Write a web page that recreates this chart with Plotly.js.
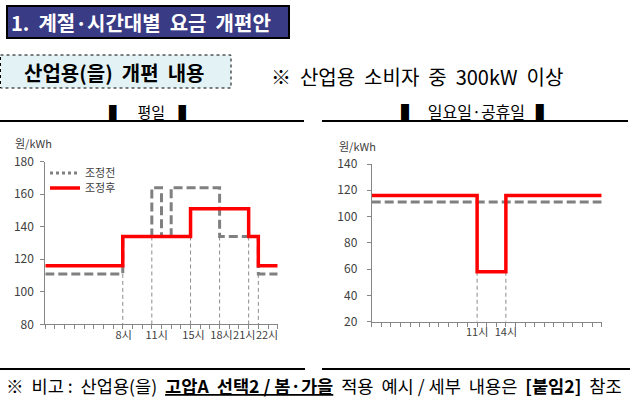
<!DOCTYPE html>
<html><head><meta charset="utf-8">
<script src="https://cdn.plot.ly/plotly-3.0.1.min.js"></script>
<style>html,body{margin:0;padding:0;background:#fff;overflow:hidden}#chart{width:634px;height:399px}</style>
</head><body><div id="chart"></div>
<script>
// ---------- data ----------
const seriesNames = ['조정전', '조정후'];
// weekday (평일): segment boundaries (hours) and rate per segment (원/kWh)
const weekdayBeforeHours = [0, 8, 11, 12, 13, 18, 22, 24];
const weekdayBeforeRate  = [111, 134, 164, 134, 164, 134, 111];
const weekdayAfterHours  = [0, 8, 15, 21, 22, 24];
const weekdayAfterRate   = [116, 134, 151, 134, 116];
// Sunday / holiday (일요일·공휴일)
const holidayBeforeHours = [0, 24];
const holidayBeforeRate  = [111];
const holidayAfterHours  = [0, 11, 14, 24];
const holidayAfterRate   = [116, 58, 116];
// labelled hours
const weekdayTickHours = [8, 11, 15, 18, 21, 22];
const weekdayTickText  = ['8시', '11시', '15시', '18시', '21시', '22시'];
const holidayTickHours = [11, 14];
const holidayTickText  = ['11시', '14시'];
const yUnit = '원/kWh';

// ---------- helpers ----------
const W = 634, H = 399;
const X = p => p / W, Y = p => 1 - p / H;
const FONT = '"Noto Sans CJK KR", "Noto Sans", sans-serif';
const stepY = r => r.concat([r[r.length - 1]]);
function rateAt(h, r, t) {
  for (let i = 0; i < r.length; i++) if (t >= h[i] && t < h[i + 1]) return r[i];
  return r[r.length - 1];
}
function drops(hours, a, b, floor) {
  const xs = [], ys = [];
  hours.forEach(t => {
    const top = Math.min(rateAt(a[0], a[1], t - 0.01), rateAt(a[0], a[1], t + 0.01),
                         rateAt(b[0], b[1], t - 0.01), rateAt(b[0], b[1], t + 0.01));
    xs.push(t, t, null); ys.push(top, floor, null);
  });
  return {xs, ys};
}
const wkDrop = drops(weekdayTickHours, [weekdayBeforeHours, weekdayBeforeRate], [weekdayAfterHours, weekdayAfterRate], 80);
const hoDrop = drops(holidayTickHours, [holidayBeforeHours, holidayBeforeRate], [holidayAfterHours, holidayAfterRate], 20);

const grayDash = {color: '#808080', width: 3, dash: '9px,4px', shape: 'hv'};
const redLine  = {color: '#FF0000', width: 3.5, shape: 'hv'};
const dropLine = {color: '#8c8c8c', width: 1, dash: '4px,3px'};

const traces = [
  {x: wkDrop.xs, y: wkDrop.ys, xaxis: 'x', yaxis: 'y', mode: 'lines', line: dropLine, showlegend: false, hoverinfo: 'skip'},
  {x: hoDrop.xs, y: hoDrop.ys, xaxis: 'x2', yaxis: 'y2', mode: 'lines', line: dropLine, showlegend: false, hoverinfo: 'skip'},
  // legend entry for 조정전 (dotted sample in legend)
  {x: [null], y: [null], xaxis: 'x', yaxis: 'y', mode: 'lines', name: seriesNames[0],
   line: {color: '#808080', width: 3, dash: 'dot'}, showlegend: true, legend: 'legend'},
  {x: weekdayBeforeHours, y: stepY(weekdayBeforeRate), xaxis: 'x', yaxis: 'y', mode: 'lines',
   name: seriesNames[0], line: grayDash, showlegend: false},
  {x: weekdayAfterHours, y: stepY(weekdayAfterRate), xaxis: 'x', yaxis: 'y', mode: 'lines',
   name: seriesNames[1], line: redLine, showlegend: true, legend: 'legend2'},
  {x: holidayBeforeHours, y: stepY(holidayBeforeRate), xaxis: 'x2', yaxis: 'y2', mode: 'lines',
   name: seriesNames[0], line: grayDash, showlegend: false},
  {x: holidayAfterHours, y: stepY(holidayAfterRate), xaxis: 'x2', yaxis: 'y2', mode: 'lines',
   name: seriesNames[1], line: redLine, showlegend: false}
];

const axisCommon = {showgrid: false, zeroline: false, showline: true, linecolor: '#868686', linewidth: 1,
  tickfont: {family: FONT, size: 12, color: '#404040'}, fixedrange: true};
const wkLabelShift = [0.1, 0.5, 0.3, 0.2, -0.45, 0.9];
const xCommon = Object.assign({}, axisCommon, {range: [0, 24], ticks: '', tickangle: 0,
  tickfont: {family: FONT, size: 11, color: '#404040'},
  minor: {tick0: 0, dtick: 1, ticks: 'outside', ticklen: 4, tickcolor: '#868686', showgrid: false}});
const legendStyle = {xanchor: 'left', yanchor: 'middle', bgcolor: 'rgba(0,0,0,0)',
  font: {family: FONT, size: 11, color: '#404040'}};

const layout = {
  width: W, height: H, margin: {l: 0, r: 0, t: 0, b: 0},
  paper_bgcolor: '#fff', plot_bgcolor: 'rgba(0,0,0,0)',
  font: {family: FONT},
  showlegend: true,
  legend: Object.assign({x: X(45), y: Y(173)}, legendStyle),
  legend2: Object.assign({x: X(45), y: Y(188)}, legendStyle),
  xaxis: Object.assign({}, xCommon, {domain: [X(45.3), X(277.7)], anchor: 'y',
    tickmode: 'array', tickvals: weekdayTickHours.map((h, i) => h + wkLabelShift[i]), ticktext: weekdayTickText}),
  yaxis: Object.assign({}, axisCommon, {domain: [Y(324.3), Y(161.7)], anchor: 'x', range: [80, 180], dtick: 20,
    ticks: 'outside', ticklen: 4, tickcolor: '#868686', ticklabelstandoff: 4}),
  xaxis2: Object.assign({}, xCommon, {domain: [X(371.7), X(601.7)], anchor: 'y2',
    tickmode: 'array', tickvals: holidayTickHours, ticktext: holidayTickText}),
  yaxis2: Object.assign({}, axisCommon, {domain: [Y(321.7), Y(164)], anchor: 'x2', range: [20, 140], dtick: 20,
    ticks: 'outside', ticklen: 4, tickcolor: '#868686', ticklabelstandoff: 7}),
  shapes: [
    {type: 'rect', xref: 'paper', yref: 'paper', x0: X(7), x1: X(289), y0: Y(6), y1: Y(38),
     fillcolor: '#3A3B85', line: {color: '#000', width: 2}, layer: 'below'},
    {type: 'rect', xref: 'paper', yref: 'paper', x0: X(0.5), x1: X(231), y0: Y(55), y1: Y(88),
     fillcolor: '#E3F3F5', line: {color: '#000', width: 1, dash: 'dot'}, layer: 'below'},
    {type: 'line', xref: 'paper', yref: 'paper', x0: X(0), x1: X(304), y0: Y(121), y1: Y(121), line: {color: '#000', width: 2}},
    {type: 'line', xref: 'paper', yref: 'paper', x0: X(322), x1: X(628), y0: Y(121), y1: Y(121), line: {color: '#000', width: 2}},
    {type: 'line', xref: 'paper', yref: 'paper', x0: X(0), x1: X(305), y0: Y(369), y1: Y(369), line: {color: '#000', width: 2}},
    {type: 'line', xref: 'paper', yref: 'paper', x0: X(322), x1: X(630), y0: Y(369), y1: Y(369), line: {color: '#000', width: 2}}
  ],
  annotations: [
    {text: '1.  계절·시간대별  요금  개편안', xref: 'paper', yref: 'paper', x: X(9), y: Y(22), xanchor: 'left', yanchor: 'middle',
     showarrow: false, font: {family: FONT, size: 20, color: '#fff', weight: 700}},
    {text: '산업용(을)  개편  내용', xref: 'paper', yref: 'paper', x: X(114), y: Y(72), xanchor: 'center', yanchor: 'middle',
     showarrow: false, font: {family: FONT, size: 20, color: '#000', weight: 700}},
    {text: '※  산업용  소비자  중  300kW  이상', xref: 'paper', yref: 'paper', x: X(269), y: Y(76), xanchor: 'left', yanchor: 'middle',
     showarrow: false, font: {family: FONT, size: 20, color: '#000'}},
    {text: '▌    평일    ▌', xref: 'paper', yref: 'paper', x: X(151), y: Y(111), xanchor: 'center', yanchor: 'middle',
     showarrow: false, font: {family: FONT, size: 15, color: '#000'}},
    {text: '▌   일요일·공휴일   ▌', xref: 'paper', yref: 'paper', x: X(476), y: Y(111), xanchor: 'center', yanchor: 'middle',
     showarrow: false, font: {family: FONT, size: 16, color: '#000'}},
    {text: yUnit, xref: 'paper', yref: 'paper', x: X(13), y: Y(143), xanchor: 'left', yanchor: 'middle',
     showarrow: false, font: {family: FONT, size: 11, color: '#404040'}},
    {text: yUnit, xref: 'paper', yref: 'paper', x: X(337), y: Y(146), xanchor: 'left', yanchor: 'middle',
     showarrow: false, font: {family: FONT, size: 11, color: '#404040'}},
    {text: '※  비고 :  산업용(을)  <b><u>고압A  선택2 / 봄·가을</u></b>  적용  예시 / 세부  내용은  <b>[붙임2]</b>  참조',
     xref: 'paper', yref: 'paper', x: X(4), y: Y(385), xanchor: 'left', yanchor: 'middle',
     showarrow: false, font: {family: FONT, size: 17.6, color: '#000'}}
  ]
};

Plotly.newPlot('chart', traces, layout, {staticPlot: true, displayModeBar: false});
</script>
</body></html>
